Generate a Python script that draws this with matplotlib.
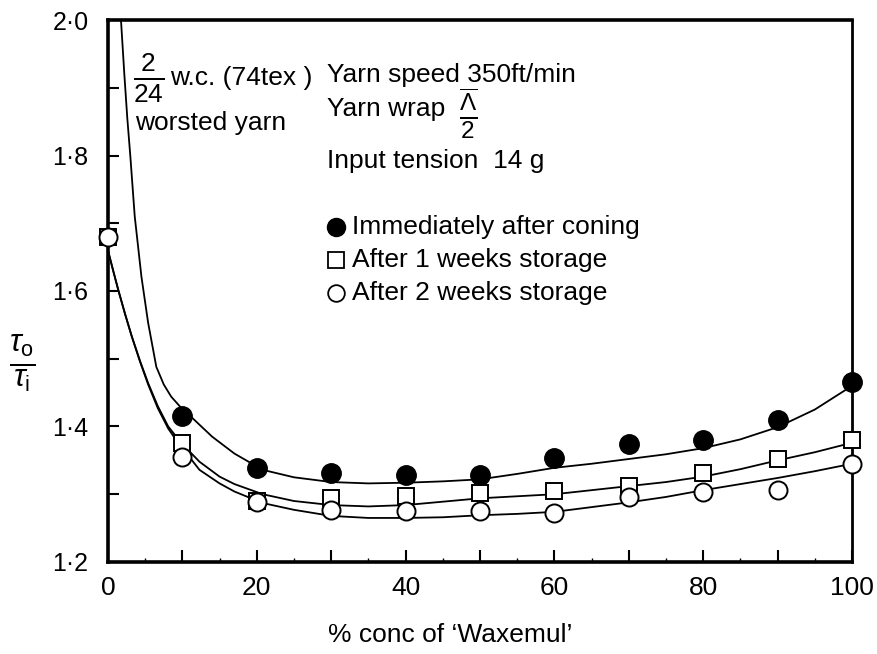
import matplotlib
matplotlib.use("Agg")
import matplotlib.pyplot as plt
from matplotlib.ticker import FixedLocator, MultipleLocator

plt.rcParams['font.family'] = ['Liberation Sans', 'DejaVu Sans']
plt.rcParams['mathtext.fontset'] = 'custom'
plt.rcParams['mathtext.rm'] = 'Liberation Sans'
plt.rcParams['mathtext.it'] = 'Liberation Sans:italic'
plt.rcParams['mathtext.bf'] = 'Liberation Sans:bold'

# Measured points: % concentration of Waxemul vs output/input tension ratio
conc = [0, 10, 20, 30, 40, 50, 60, 70, 80, 90, 100]
conc_fresh = [10, 20, 30, 40, 50, 60, 70, 80, 90, 100]
ratio_fresh = [1.416, 1.339, 1.331, 1.328, 1.328, 1.354, 1.374, 1.380, 1.410, 1.466]
ratio_week1 = [1.680, 1.376, 1.290, 1.294, 1.297, 1.302, 1.305, 1.312, 1.331, 1.352, 1.380]
ratio_week2 = [1.680, 1.355, 1.289, 1.277, 1.275, 1.275, 1.272, 1.296, 1.304, 1.306, 1.345]

# Hand-fitted trend curves for each series
fit_fresh_x = [1.75, 2.2, 2.6, 3.0, 3.6, 4.5, 5.4, 6.5, 7.5, 8.5, 9.8, 11.2, 14, 17, 20.8,
               25, 30, 35, 40, 45, 50, 55, 60, 65, 70, 75, 80, 85, 90, 95, 100]
fit_fresh_y = [2.000, 1.920, 1.855, 1.800, 1.710, 1.621, 1.553, 1.488, 1.462, 1.444, 1.428,
               1.414, 1.385, 1.360, 1.336, 1.325, 1.318, 1.316, 1.317, 1.319, 1.322, 1.330,
               1.339, 1.345, 1.352, 1.359, 1.368, 1.381, 1.399, 1.425, 1.460]
fit_week1_x = [0, 0.7, 1.4, 2.3, 3.2, 4.3, 5.4, 6.7, 8.1, 9.4, 10.8, 12.3, 15, 17, 20.8,
               25, 30, 35, 40, 45, 50, 55, 60, 65, 70, 75, 80, 85, 90, 95, 100]
fit_week1_y = [1.660, 1.630, 1.601, 1.566, 1.533, 1.497, 1.464, 1.430, 1.400, 1.382, 1.365,
               1.348, 1.326, 1.315, 1.300, 1.290, 1.284, 1.282, 1.284, 1.289, 1.294, 1.297,
               1.300, 1.306, 1.312, 1.318, 1.326, 1.337, 1.350, 1.362, 1.376]
fit_week2_x = [0, 0.7, 1.4, 2.3, 3.2, 4.3, 5.4, 6.7, 8.1, 9.4, 10.8, 12.3, 15, 17, 20.8,
               25, 30, 35, 40, 45, 50, 55, 60, 65, 70, 75, 80, 85, 90, 95, 100]
fit_week2_y = [1.660, 1.630, 1.601, 1.566, 1.533, 1.496, 1.462, 1.427, 1.397, 1.376, 1.357,
               1.336, 1.316, 1.304, 1.287, 1.277, 1.268, 1.265, 1.265, 1.266, 1.269, 1.271,
               1.274, 1.281, 1.288, 1.296, 1.306, 1.315, 1.324, 1.334, 1.345]

x_ticks = [0, 10, 20, 30, 40, 50, 60, 70, 80, 90, 100]
x_tick_labels = ['0', '', '20', '', '40', '', '60', '', '80', '', '100']
y_ticks = [1.2, 1.3, 1.4, 1.5, 1.6, 1.7, 1.8, 1.9, 2.0]
y_tick_labels = ['1·2', '', '1·4', '', '1·6', '', '1·8', '', '2·0']

fig = plt.figure(figsize=(8.77, 6.54), dpi=100)
ax = fig.add_axes([0.1231, 0.1407, 0.8484, 0.8287])

lw_curve = 1.3
ax.plot(fit_fresh_x, fit_fresh_y, color='black', lw=lw_curve, zorder=2)
ax.plot(fit_week1_x, fit_week1_y, color='black', lw=lw_curve, zorder=2)
ax.plot(fit_week2_x, fit_week2_y, color='black', lw=lw_curve, zorder=2)

ax.plot(conc, ratio_week1, ls='none', marker='s', ms=12, mfc='white', mec='black',
        mew=1.4, clip_on=False, zorder=4)
ax.plot(conc, ratio_week2, ls='none', marker='o', ms=13, mfc='white', mec='black',
        mew=1.4, clip_on=False, zorder=5)
ax.plot(conc_fresh, ratio_fresh, ls='none', marker='o', ms=14, mfc='black', mec='black',
        clip_on=False, zorder=6)

ax.set_xlim(0, 100)
ax.set_ylim(1.2, 2.0)

ax.xaxis.set_major_locator(FixedLocator(x_ticks))
ax.set_xticklabels(x_tick_labels)
ax.xaxis.set_minor_locator(MultipleLocator(5))
ax.yaxis.set_major_locator(FixedLocator(y_ticks))
ax.set_yticklabels(y_tick_labels)

ax.tick_params(axis='x', which='major', direction='in', length=9, width=1.5,
               labelsize=19, pad=10, top=False)
ax.tick_params(axis='x', which='minor', direction='in', length=3, width=1.0, top=False)
ax.tick_params(axis='y', which='major', direction='in', length=8, width=1.5,
               labelsize=18, pad=14, right=False)

for side in ['left', 'bottom', 'top']:
    ax.spines[side].set_linewidth(2.6)
ax.spines['right'].set_linewidth(2.0)

fig.text(0.513, 0.029, "% conc of ‘Waxemul’", fontsize=19, ha='center', va='center')

fig.text(0.026, 0.445, r'$\frac{\tau_\mathrm{o}}{\tau_\mathrm{i}}$', fontsize=32,
         ha='center', va='center')

# Annotation block
fs = 19
ax.text(3.4, 1.914, r'$\frac{2}{24}$', fontsize=27, ha='left', va='center')
ax.text(8.3, 1.904, 'w.c. (74tex )', fontsize=fs, ha='left', va='baseline')
ax.text(3.6, 1.838, 'worsted yarn', fontsize=fs, ha='left', va='baseline')
ax.text(29.4, 1.908, 'Yarn speed 350ft/min', fontsize=fs, ha='left', va='baseline')
ax.text(29.4, 1.858, 'Yarn wrap', fontsize=fs, ha='left', va='baseline')
ax.text(47.2, 1.862, r'$\frac{\overline{\Lambda}}{2}$', fontsize=25, ha='left', va='center')
ax.text(29.4, 1.782, 'Input tension  14 g', fontsize=fs, ha='left', va='baseline')

leg_x = 30.6
ax.plot([leg_x], [1.694], ls='none', marker='o', ms=13, mfc='black', mec='black')
ax.plot([leg_x], [1.646], ls='none', marker='s', ms=12, mfc='white', mec='black', mew=1.3)
ax.plot([leg_x], [1.597], ls='none', marker='o', ms=12, mfc='white', mec='black', mew=1.3)
ax.text(32.8, 1.694, 'Immediately after coning', fontsize=fs, ha='left', va='center')
ax.text(32.8, 1.646, 'After 1 weeks storage', fontsize=fs, ha='left', va='center')
ax.text(32.8, 1.597, 'After 2 weeks storage', fontsize=fs, ha='left', va='center')

fig.savefig('out.png', dpi=100)
